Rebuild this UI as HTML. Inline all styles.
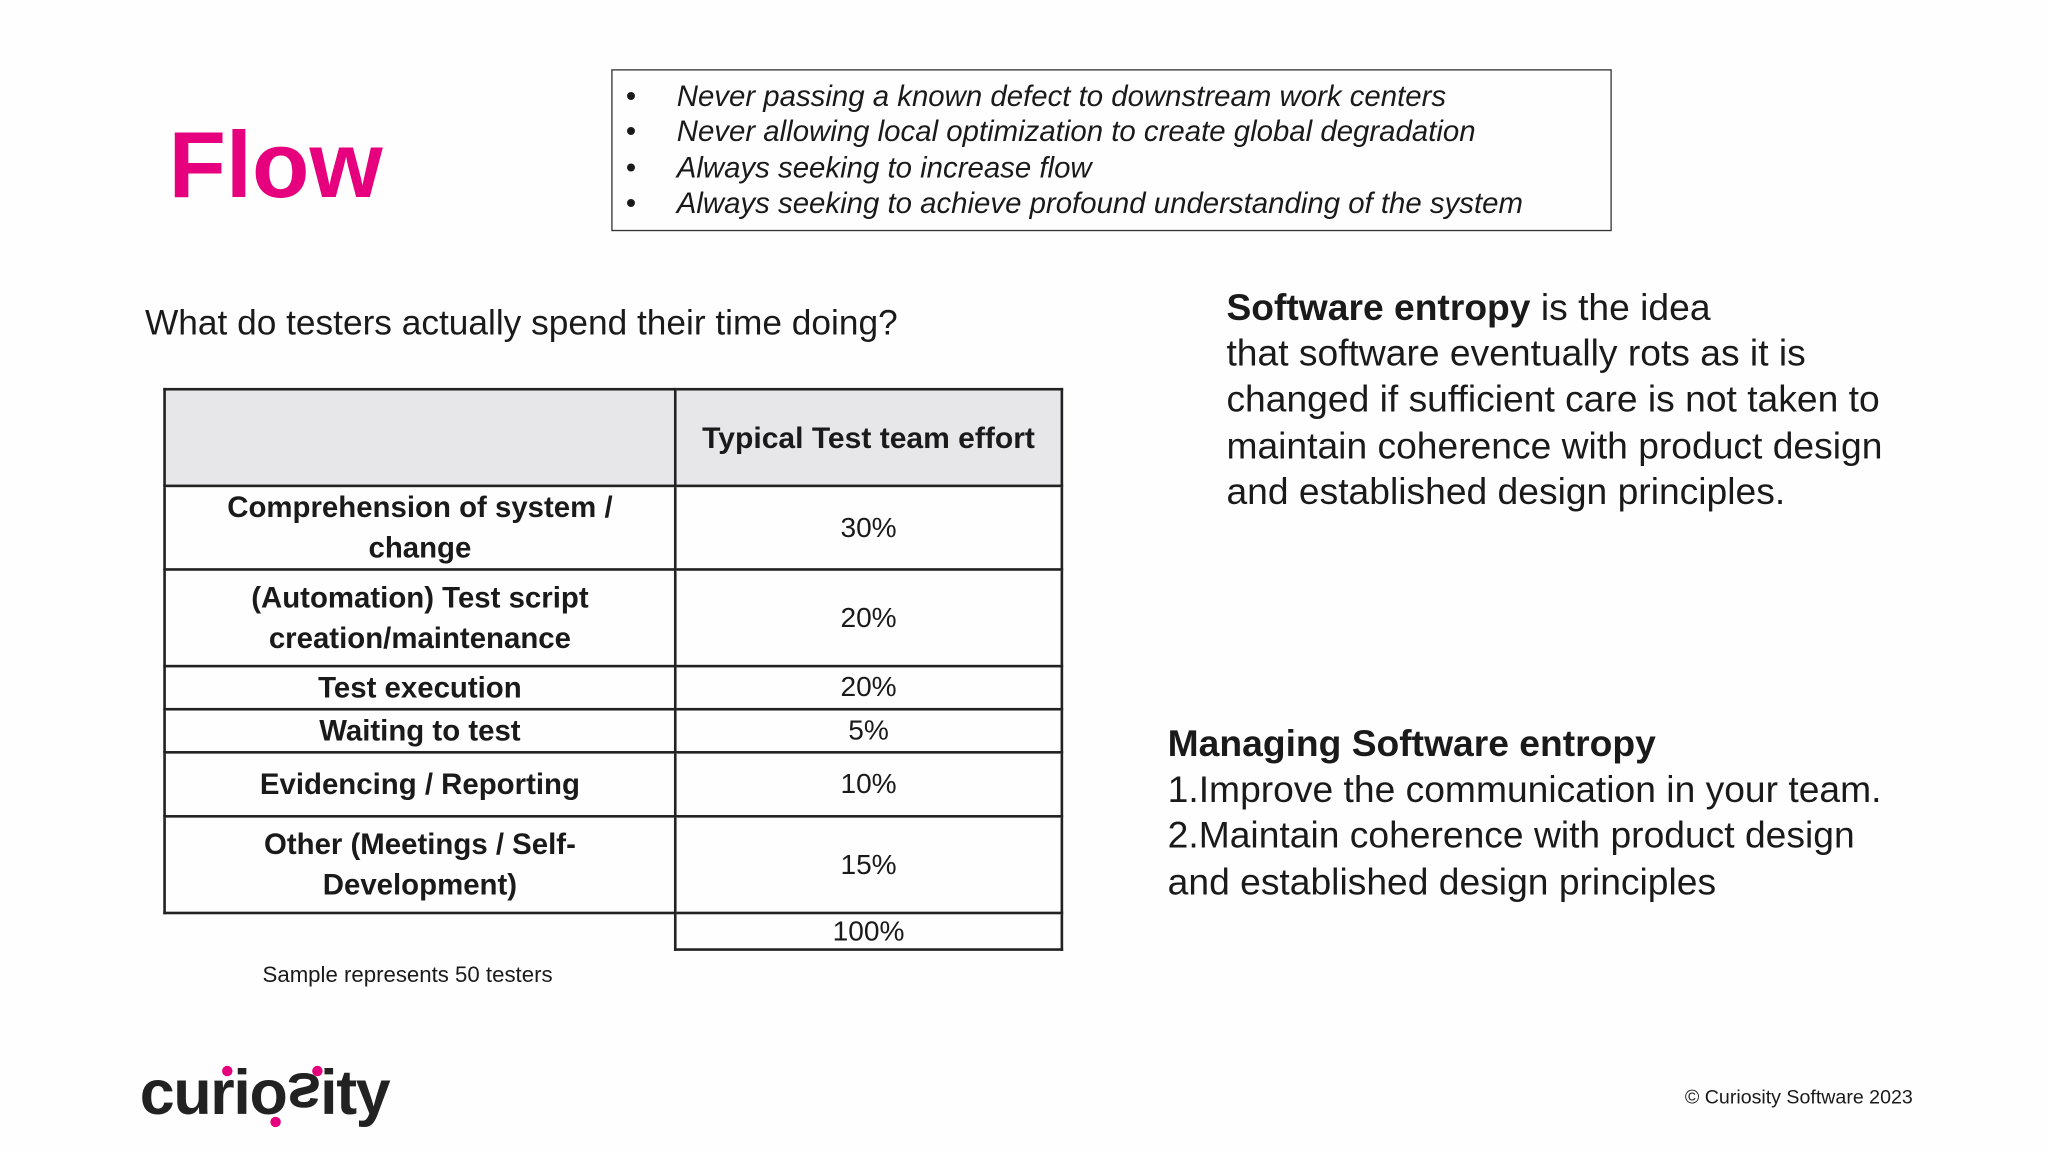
<!DOCTYPE html>
<html><head><meta charset="utf-8"><style>
html,body{margin:0;padding:0;background:#fff;width:2048px;height:1152px;overflow:hidden}
#s{position:absolute;left:0;top:0;width:1568px;height:882px;transform:scale(1.306122);transform-origin:0 0;font-family:"Liberation Sans",sans-serif;color:#1a1a1a;background:#fefefe}
.a{position:absolute;white-space:nowrap}
table{position:absolute;left:125px;top:297px;border-collapse:collapse;font-family:"Liberation Sans",sans-serif}
td{border:2px solid #222;text-align:center;padding:0;font-size:21.5px;line-height:31px;white-space:nowrap}
td.l{font-weight:bold;width:389px;font-size:22.5px}
td.r{width:294px}
</style></head><body>
<div id="s">
<div class="a" style="left:129px;top:86px;font-size:72px;font-weight:bold;color:#e6007e">Flow</div>
<div class="a" style="left:468px;top:53px;width:764px;height:122px;border:1px solid #333">
<div style="position:absolute;left:10px;top:6px;font-size:22.5px;font-style:italic;line-height:27.3px">
<div>•&nbsp;&nbsp;&nbsp;&nbsp;&nbsp;Never passing a known defect to downstream work centers</div>
<div>•&nbsp;&nbsp;&nbsp;&nbsp;&nbsp;Never allowing local optimization to create global degradation</div>
<div>•&nbsp;&nbsp;&nbsp;&nbsp;&nbsp;Always seeking to increase flow</div>
<div>•&nbsp;&nbsp;&nbsp;&nbsp;&nbsp;Always seeking to achieve profound understanding of the system</div>
</div></div>
<div class="a" style="left:111px;top:232px;font-size:27px">What do testers actually spend their time doing?</div>
<table>
<tr style="height:74px;background:#e7e6e9"><td class="l"></td><td class="r" style="font-weight:bold;font-size:23px">Typical Test team effort</td></tr>
<tr style="height:61px"><td class="l">Comprehension of system&nbsp;/<br>change</td><td class="r">30%</td></tr>
<tr style="height:74px"><td class="l">(Automation) Test script<br>creation/maintenance</td><td class="r">20%</td></tr>
<tr style="height:30px"><td class="l">Test execution</td><td class="r">20%</td></tr>
<tr style="height:30px"><td class="l">Waiting to test</td><td class="r">5%</td></tr>
<tr style="height:49px"><td class="l">Evidencing / Reporting</td><td class="r">10%</td></tr>
<tr style="height:74px"><td class="l">Other (Meetings / Self-<br>Development)</td><td class="r">15%</td></tr>
<tr style="height:28px"><td class="l" style="border:none;border-top:2px solid #222"></td><td class="r" style="line-height:26px">100%</td></tr>
</table>
<div class="a" style="left:201px;top:737px;font-size:17px">Sample represents 50 testers</div>
<div class="a" style="left:939px;top:219px;font-size:28.5px;line-height:35.2px">
<b>Software entropy</b> is the idea<br>that software eventually rots as it is<br>changed if sufficient care is not taken to<br>maintain coherence with product design<br>and established design principles.</div>
<div class="a" style="left:894px;top:553px;font-size:28.5px;line-height:35.2px">
<b>Managing Software entropy</b><br>1.Improve the communication in your team.<br>2.Maintain coherence with product design<br>and established design principles</div>
<div class="a" style="left:107px;top:810px;font-size:48px;font-weight:bold;color:#222;letter-spacing:-1px">curio<span style="display:inline-block;transform:scaleY(-1)">s</span>ity
<span style="position:absolute;left:63px;top:6px;width:8px;height:8px;border-radius:50%;background:#e6007e"></span>
<span style="position:absolute;left:100px;top:45px;width:8px;height:8px;border-radius:50%;background:#e6007e"></span>
<span style="position:absolute;left:132px;top:6px;width:8px;height:8px;border-radius:50%;background:#e6007e"></span>
</div>
<div class="a" style="left:1290px;top:832px;font-size:15px">© Curiosity Software 2023</div>
</div>
</body></html>
